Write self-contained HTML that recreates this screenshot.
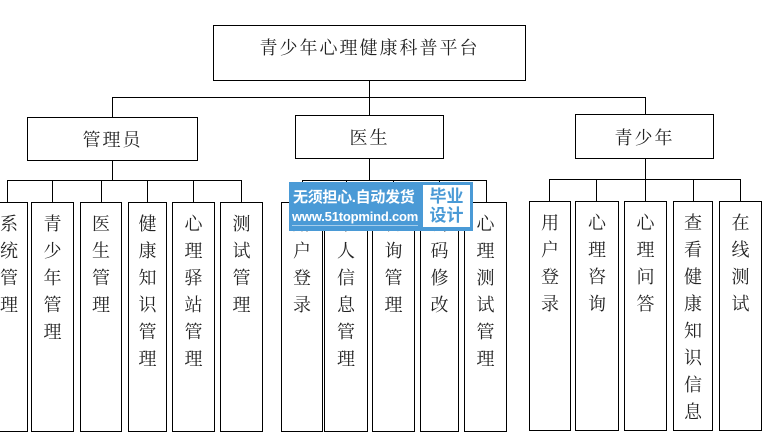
<!DOCTYPE html>
<html><head><meta charset="utf-8"><style>
body{margin:0;width:763px;height:414px;background:#fff;position:relative;overflow:hidden;font-family:"Liberation Serif","Noto Serif CJK SC","Noto Sans CJK SC",serif;color:#222}
.b{position:absolute;border:1px solid #000;box-sizing:border-box;background:#fff}
.t{display:flex;align-items:center;justify-content:center;font-size:18px;letter-spacing:2px}
.l{position:absolute;background:#000}
.v{text-align:center;font-size:18px;line-height:27px;padding-top:8px;width:18px;margin:0 auto;word-break:break-all}
.wm{position:absolute;left:289px;top:182px;width:184px;height:49px;background:#4a9ad6;font-family:"Liberation Sans","Noto Sans CJK SC",sans-serif;color:#fff}
</style></head><body>
<div class="b t" style="left:213px;top:25px;width:313px;height:56px;padding-bottom:12px">青少年心理健康科普平台</div>
<div class="l" style="left:369px;top:80px;width:1px;height:36px"></div>
<div class="l" style="left:112px;top:97px;width:534px;height:1px"></div>
<div class="l" style="left:112px;top:97px;width:1px;height:20px"></div>
<div class="l" style="left:645px;top:97px;width:1px;height:18px"></div>
<div class="b t" style="left:27px;top:117px;width:171px;height:44px">管理员</div>
<div class="b t" style="left:295px;top:115px;width:149px;height:44px">医生</div>
<div class="b t" style="left:575px;top:114px;width:139px;height:45px">青少年</div>
<div class="l" style="left:112px;top:160px;width:1px;height:20px"></div>
<div class="l" style="left:369px;top:158px;width:1px;height:22px"></div>
<div class="l" style="left:645px;top:158px;width:1px;height:21px"></div>
<div class="l" style="left:7px;top:180px;width:235px;height:1px"></div>
<div class="l" style="left:302px;top:180px;width:185px;height:1px"></div>
<div class="l" style="left:549px;top:179px;width:192px;height:1px"></div>

<div class="l" style="left:7px;top:180px;width:1px;height:22px"></div>
<div class="b" style="left:-14px;top:202px;width:42px;height:230px"><div class="v" style="margin-left:13px">系统管理</div></div>
<div class="l" style="left:52px;top:180px;width:1px;height:22px"></div>
<div class="b" style="left:31px;top:202px;width:43px;height:230px"><div class="v">青少年管理</div></div>
<div class="l" style="left:101px;top:180px;width:1px;height:22px"></div>
<div class="b" style="left:80px;top:202px;width:42px;height:230px"><div class="v">医生管理</div></div>
<div class="l" style="left:147px;top:180px;width:1px;height:22px"></div>
<div class="b" style="left:128px;top:202px;width:39px;height:230px"><div class="v">健康知识管理</div></div>
<div class="l" style="left:193px;top:180px;width:1px;height:22px"></div>
<div class="b" style="left:172px;top:202px;width:43px;height:230px"><div class="v">心理驿站管理</div></div>
<div class="l" style="left:241px;top:180px;width:1px;height:22px"></div>
<div class="b" style="left:220px;top:202px;width:43px;height:230px"><div class="v">测试管理</div></div>

<div class="l" style="left:302px;top:180px;width:1px;height:22px"></div>
<div class="b" style="left:281px;top:202px;width:42px;height:230px"><div class="v">用户登录</div></div>
<div class="l" style="left:346px;top:180px;width:1px;height:22px"></div>
<div class="b" style="left:324px;top:202px;width:44px;height:230px"><div class="v">个人信息管理</div></div>
<div class="l" style="left:393px;top:180px;width:1px;height:22px"></div>
<div class="b" style="left:372px;top:202px;width:43px;height:230px"><div class="v">咨询管理</div></div>
<div class="l" style="left:439px;top:180px;width:1px;height:22px"></div>
<div class="b" style="left:420px;top:202px;width:39px;height:230px"><div class="v">密码修改</div></div>
<div class="l" style="left:486px;top:180px;width:1px;height:22px"></div>
<div class="b" style="left:464px;top:202px;width:43px;height:230px"><div class="v">心理测试管理</div></div>

<div class="l" style="left:549px;top:179px;width:1px;height:22px"></div>
<div class="b" style="left:529px;top:201px;width:42px;height:230px"><div class="v">用户登录</div></div>
<div class="l" style="left:596px;top:179px;width:1px;height:22px"></div>
<div class="b" style="left:575px;top:201px;width:44px;height:230px"><div class="v">心理咨询</div></div>
<div class="l" style="left:645px;top:179px;width:1px;height:22px"></div>
<div class="b" style="left:624px;top:201px;width:43px;height:230px"><div class="v">心理问答</div></div>
<div class="l" style="left:693px;top:179px;width:1px;height:22px"></div>
<div class="b" style="left:673px;top:201px;width:40px;height:230px"><div class="v">查看健康知识信息</div></div>
<div class="l" style="left:740px;top:179px;width:1px;height:22px"></div>
<div class="b" style="left:719px;top:201px;width:43px;height:230px"><div class="v">在线测试</div></div>

<div class="wm">
<div style="position:absolute;left:4px;top:4px;font-size:15px;font-weight:bold;white-space:nowrap;letter-spacing:-0.3px">无须担心.自动发货</div>
<div style="position:absolute;left:3px;top:26px;font-size:13px;font-weight:bold;white-space:nowrap;letter-spacing:-0.2px;border-bottom:1px solid rgba(255,255,255,0.5);line-height:17px">www.51topmind.com</div>
<div style="position:absolute;left:134px;top:3px;width:47px;height:42px;background:#fff;color:#4a9ad6;font-size:17px;font-weight:bold;line-height:19px;text-align:center;padding-top:2px;box-sizing:border-box">毕业<br>设计</div>
</div>
</body></html>
